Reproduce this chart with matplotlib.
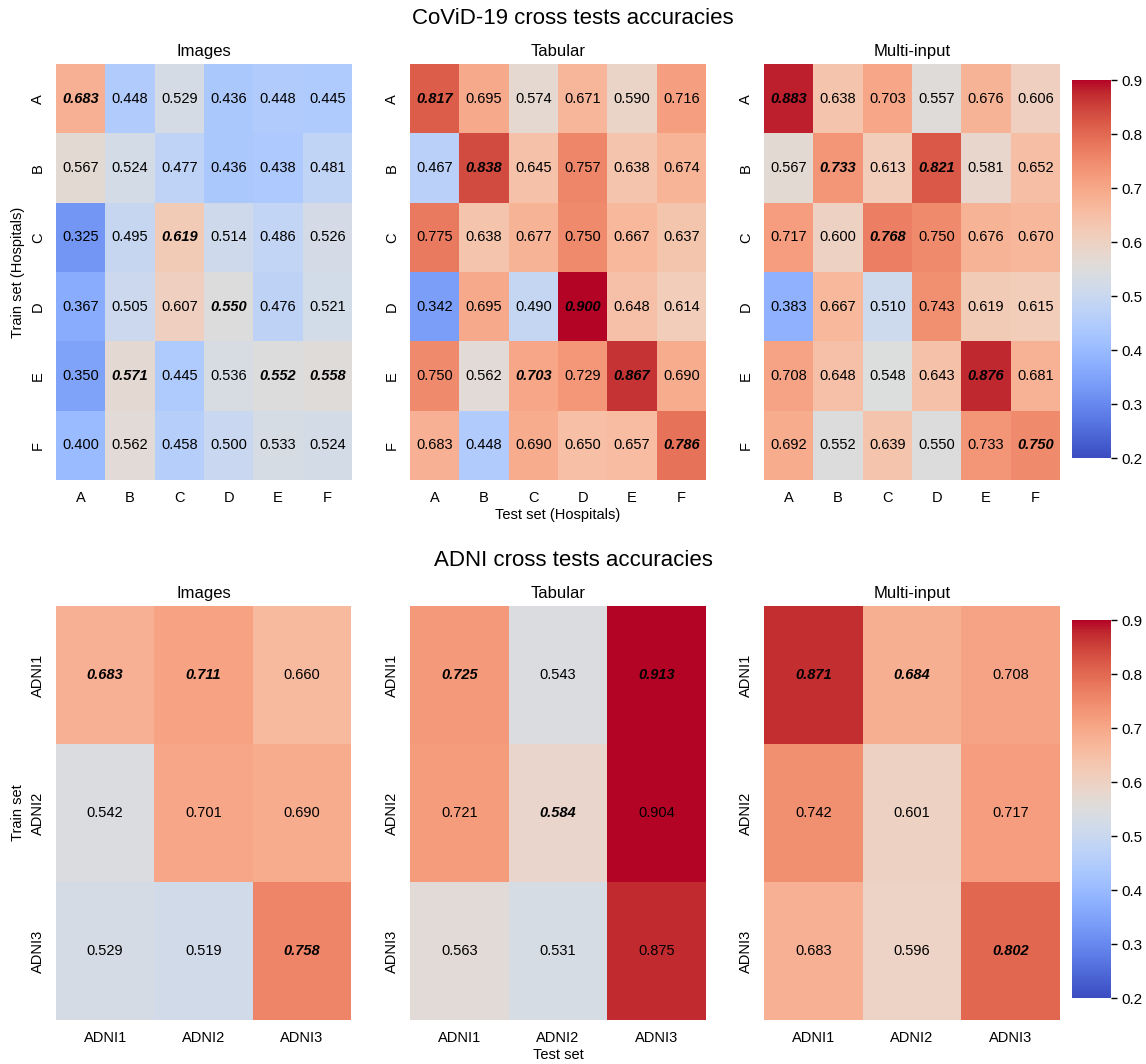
import numpy as np
import matplotlib.pyplot as plt
import seaborn as sns

plt.rcParams["font.family"] = ["Liberation Sans", "DejaVu Sans"]

# CoViD-19 hospitals
hospitals = ["A", "B", "C", "D", "E", "F"]
covid_images = [
    [0.683, 0.448, 0.529, 0.436, 0.448, 0.445],
    [0.567, 0.524, 0.477, 0.436, 0.438, 0.481],
    [0.325, 0.495, 0.619, 0.514, 0.486, 0.526],
    [0.367, 0.505, 0.607, 0.550, 0.476, 0.521],
    [0.350, 0.571, 0.445, 0.536, 0.552, 0.558],
    [0.400, 0.562, 0.458, 0.500, 0.533, 0.524],
]
covid_tabular = [
    [0.817, 0.695, 0.574, 0.671, 0.590, 0.716],
    [0.467, 0.838, 0.645, 0.757, 0.638, 0.674],
    [0.775, 0.638, 0.677, 0.750, 0.667, 0.637],
    [0.342, 0.695, 0.490, 0.900, 0.648, 0.614],
    [0.750, 0.562, 0.703, 0.729, 0.867, 0.690],
    [0.683, 0.448, 0.690, 0.650, 0.657, 0.786],
]
covid_multi = [
    [0.883, 0.638, 0.703, 0.557, 0.676, 0.606],
    [0.567, 0.733, 0.613, 0.821, 0.581, 0.652],
    [0.717, 0.600, 0.768, 0.750, 0.676, 0.670],
    [0.383, 0.667, 0.510, 0.743, 0.619, 0.615],
    [0.708, 0.648, 0.548, 0.643, 0.876, 0.681],
    [0.692, 0.552, 0.639, 0.550, 0.733, 0.750],
]

# ADNI cohorts
adni = ["ADNI1", "ADNI2", "ADNI3"]
adni_images = [
    [0.683, 0.711, 0.660],
    [0.542, 0.701, 0.690],
    [0.529, 0.519, 0.758],
]
adni_tabular = [
    [0.725, 0.543, 0.913],
    [0.721, 0.584, 0.904],
    [0.563, 0.531, 0.875],
]
adni_multi = [
    [0.871, 0.684, 0.708],
    [0.742, 0.601, 0.717],
    [0.683, 0.596, 0.802],
]

W, H = 1146, 1064
fig = plt.figure(figsize=(W / 100, H / 100), dpi=100)


def rect(x0, x1, y0, y1):
    return [x0 / W, 1 - y1 / H, (x1 - x0) / W, (y1 - y0) / H]


def draw(ax, data, labels, title, cbar_ax=None):
    arr = np.array(data)
    sns.heatmap(arr, ax=ax, cmap="coolwarm", vmin=0.2, vmax=0.9,
                annot=True, fmt=".3f", annot_kws={"fontsize": 10.5, "color": "black"},
                cbar=cbar_ax is not None, cbar_ax=cbar_ax,
                xticklabels=labels, yticklabels=labels)
    # column maximum in bold italic
    best = arr.argmax(axis=0)
    n = arr.shape[1]
    for k, t in enumerate(ax.texts):
        i, j = divmod(k, n)
        t.set_color("black")
        if best[j] == i:
            t.set_fontweight("bold")
            t.set_fontstyle("italic")
    ax.set_title(title, fontsize=12)
    ax.tick_params(length=0, labelsize=10.5, pad=8)
    ax.set_yticklabels(labels, rotation=90, va="center")
    ax.set_xticklabels(labels, rotation=0)
    if cbar_ax is not None:
        cbar_ax.tick_params(labelsize=11, length=4, width=1)


# top row
ax1 = fig.add_axes(rect(56, 352, 64, 480))
ax2 = fig.add_axes(rect(410, 706, 64, 480))
ax3 = fig.add_axes(rect(764, 1060, 64, 480))
cax1 = fig.add_axes(rect(1072, 1111, 80, 458))
draw(ax1, covid_images, hospitals, "Images")
draw(ax2, covid_tabular, hospitals, "Tabular")
draw(ax3, covid_multi, hospitals, "Multi-input", cbar_ax=cax1)
ax1.set_ylabel("Train set (Hospitals)", fontsize=10.5)
ax2.set_xlabel("Test set (Hospitals)", fontsize=10.5, labelpad=2)
fig.text(0.5, 1 - 18 / H, "CoViD-19 cross tests accuracies", ha="center", va="center", fontsize=16)

# bottom row
bx1 = fig.add_axes(rect(56, 351, 606, 1020))
bx2 = fig.add_axes(rect(410, 706, 606, 1020))
bx3 = fig.add_axes(rect(764, 1060, 606, 1020))
cax2 = fig.add_axes(rect(1072, 1111, 620, 998))
draw(bx1, adni_images, adni, "Images")
draw(bx2, adni_tabular, adni, "Tabular")
draw(bx3, adni_multi, adni, "Multi-input", cbar_ax=cax2)
bx1.set_ylabel("Train set", fontsize=10.5)
bx2.set_xlabel("Test set", fontsize=10.5, labelpad=2)
fig.text(0.5, 1 - 561 / H, "ADNI cross tests accuracies", ha="center", va="center", fontsize=16)

plt.savefig("out.png", dpi=100)
plt.close(fig)
